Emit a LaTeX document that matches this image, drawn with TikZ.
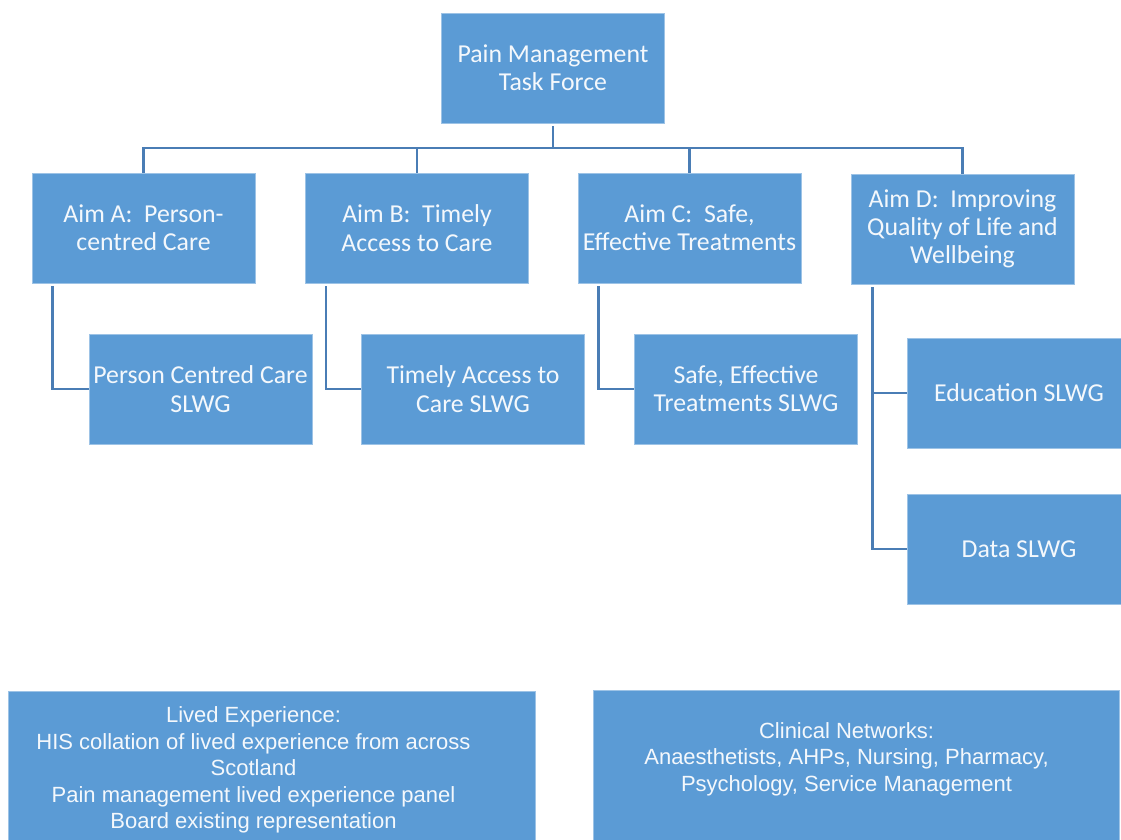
\documentclass[tikz,border=0pt]{standalone}
\usepackage{fontspec}
\setmainfont{Carlito}
\newfontfamily\arialfont{Liberation Sans}
\definecolor{boxblue}{HTML}{5B9BD5}
\definecolor{lineblue}{HTML}{4A7DB5}
\definecolor{txtwhite}{HTML}{F4F8FC}
\begin{document}
\begin{tikzpicture}[x=1pt,y=-1pt,
  box/.style={rectangle,fill=boxblue,draw=boxblue!60!white,line width=0.8pt,
    minimum width=223pt,minimum height=110pt,inner sep=0pt,align=center,
    text=txtwhite,font=\fontsize{25.8}{28.3}\selectfont},
  bigbox/.style={rectangle,fill=boxblue,draw=boxblue!60!white,line width=0.8pt,
    minimum width=527pt,minimum height=160pt,inner sep=0pt},
  btext/.style={align=center,text=txtwhite,inner sep=0pt,
    font=\arialfont\fontsize{22}{26.5}\selectfont},
  conn/.style={draw=lineblue,line width=2.4pt}]
\clip (0,0) rectangle (1121,839);
\fill[white] (0,0) rectangle (1121,839);

\node[box] (top) at (553,68) {Pain Management\\Task Force};

\node[box] (aimA) at (143.5,228) {Aim A:\ \ Person-\\centred Care};
\node[box] (aimB) at (417,228) {Aim B:\ \ Timely\\Access to Care};
\node[box] (aimC) at (689.5,228) {Aim C:\ \ Safe,\\Effective Treatments};
\node[box] (aimD) at (962.5,229) {Aim D:\ \ Improving\\Quality of Life and\\Wellbeing};

\node[box] (slA) at (200.5,389) {Person Centred Care\\SLWG};
\node[box] (slB) at (473,389) {Timely Access to\\Care SLWG};
\node[box] (slC) at (746,389) {Safe, Effective\\Treatments SLWG};
\node[box,minimum width=224pt] (edu) at (1019,393) {Education SLWG};
\node[box,minimum width=224pt] (data) at (1019,549) {Data SLWG};

\coordinate (bus) at (553,148);
\draw[conn] ([yshift=-3pt]top.south) -- (top.south |- bus);
\draw[conn] (aimA.north) |- (bus) -| (aimD.north);
\draw[conn] (aimB.north) -- (aimB.north |- bus);
\draw[conn] (aimC.north) -- (aimC.north |- bus);

\draw[conn] ([xshift=21pt,yshift=-3pt]aimA.south west) |- (slA.west);
\draw[conn] ([xshift=21pt,yshift=-3pt]aimB.south west) |- (slB.west);
\draw[conn] ([xshift=21pt,yshift=-3pt]aimC.south west) |- (slC.west);
\coordinate (dtrunk) at ([xshift=22pt,yshift=-3pt]aimD.south west);
\draw[conn] (dtrunk) |- (data.west);
\draw[conn] (edu.west -| dtrunk) -- (edu.west);

\node[bigbox] (lived) at (271.5,771) {};
\node[btext] (livedtxt) at (253.5,770) {Lived Experience:\\HIS collation of lived experience from across\\Scotland\\Pain management lived experience panel\\Board existing representation};
\node[bigbox,minimum width=526pt] (clin) at (856,770) {};
\node[btext] (clintxt) at (846.5,759) {Clinical Networks:\\Anaesthetists, AHPs, Nursing, Pharmacy,\\Psychology, Service Management};
\end{tikzpicture}
\end{document}
